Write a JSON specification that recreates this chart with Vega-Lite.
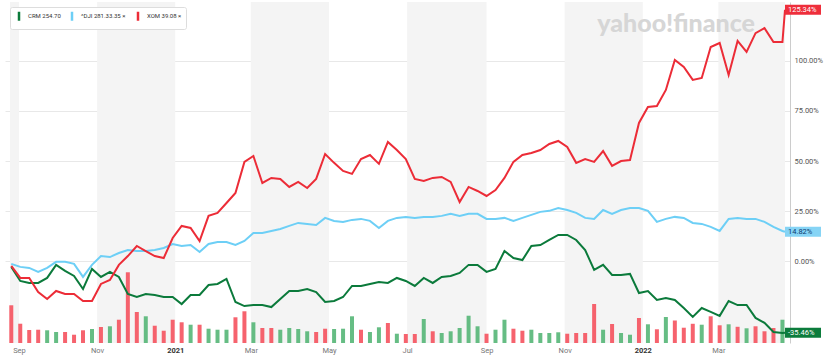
{
"$schema": "https://vega.github.io/schema/vega-lite/v6.json",
"width": 785, "height": 341,
"autosize": {"type": "none"},
"padding": {"left": 5, "top": 2, "right": 39, "bottom": 15},
"background": "white",
"config": {"view": {"stroke": null}, "font": "Roboto"},
"datasets": {
"main": [
{"d":"2020-08-26","CRM":-2.7,"DJI":-1.2,"XOM":-2.2,"vol":52.8,"up":0},
{"d":"2020-09-02","CRM":-9.7,"DJI":-2.7,"XOM":-8.2,"vol":27.0,"up":0},
{"d":"2020-09-09","CRM":-10.7,"DJI":-3.2,"XOM":-8.2,"vol":18.2,"up":0},
{"d":"2020-09-16","CRM":-10.7,"DJI":-5.2,"XOM":-15.2,"vol":18.6,"up":0},
{"d":"2020-09-23","CRM":-8.2,"DJI":-3.2,"XOM":-18.7,"vol":17.8,"up":1},
{"d":"2020-09-30","CRM":-1.7,"DJI":-0.2,"XOM":-14.7,"vol":15.4,"up":1},
{"d":"2020-10-07","CRM":-4.7,"DJI":-0.2,"XOM":-16.2,"vol":15.4,"up":0},
{"d":"2020-10-14","CRM":-7.2,"DJI":-1.2,"XOM":-16.2,"vol":11.6,"up":0},
{"d":"2020-10-21","CRM":-13.7,"DJI":-7.7,"XOM":-19.7,"vol":17.8,"up":0},
{"d":"2020-10-28","CRM":-3.7,"DJI":-1.7,"XOM":-19.7,"vol":19.6,"up":1},
{"d":"2020-11-04","CRM":-7.7,"DJI":2.7,"XOM":-11.2,"vol":22.4,"up":0},
{"d":"2020-11-11","CRM":-5.2,"DJI":2.2,"XOM":-9.2,"vol":23.4,"up":1},
{"d":"2020-11-18","CRM":-7.7,"DJI":4.2,"XOM":-1.7,"vol":32.6,"up":0},
{"d":"2020-11-25","CRM":-16.2,"DJI":5.7,"XOM":2.7,"vol":99.0,"up":0},
{"d":"2020-12-02","CRM":-17.7,"DJI":5.2,"XOM":7.7,"vol":43.4,"up":0},
{"d":"2020-12-09","CRM":-16.2,"DJI":5.2,"XOM":5.2,"vol":37.4,"up":1},
{"d":"2020-12-16","CRM":-16.7,"DJI":5.7,"XOM":2.7,"vol":24.2,"up":0},
{"d":"2020-12-23","CRM":-17.7,"DJI":6.7,"XOM":1.7,"vol":17.2,"up":0},
{"d":"2020-12-30","CRM":-17.7,"DJI":8.7,"XOM":11.7,"vol":32.6,"up":0},
{"d":"2021-01-06","CRM":-21.2,"DJI":7.7,"XOM":17.7,"vol":29.0,"up":0},
{"d":"2021-01-13","CRM":-16.7,"DJI":8.2,"XOM":16.7,"vol":25.6,"up":1},
{"d":"2021-01-20","CRM":-16.7,"DJI":4.7,"XOM":10.2,"vol":25.6,"up":0},
{"d":"2021-01-27","CRM":-11.7,"DJI":8.7,"XOM":22.7,"vol":20.0,"up":1},
{"d":"2021-02-03","CRM":-11.2,"DJI":9.7,"XOM":24.2,"vol":18.6,"up":1},
{"d":"2021-02-10","CRM":-8.7,"DJI":9.7,"XOM":29.1,"vol":18.6,"up":1},
{"d":"2021-02-17","CRM":-20.2,"DJI":8.2,"XOM":34.1,"vol":36.0,"up":0},
{"d":"2021-02-24","CRM":-22.2,"DJI":10.2,"XOM":49.6,"vol":44.4,"up":0},
{"d":"2021-03-03","CRM":-21.7,"DJI":14.2,"XOM":52.5,"vol":29.0,"up":1},
{"d":"2021-03-10","CRM":-21.7,"DJI":14.2,"XOM":39.1,"vol":21.0,"up":0},
{"d":"2021-03-17","CRM":-22.7,"DJI":15.2,"XOM":41.6,"vol":21.0,"up":0},
{"d":"2021-03-24","CRM":-18.7,"DJI":16.2,"XOM":41.1,"vol":18.6,"up":1},
{"d":"2021-03-31","CRM":-14.7,"DJI":17.7,"XOM":37.1,"vol":21.0,"up":1},
{"d":"2021-04-07","CRM":-14.7,"DJI":19.2,"XOM":39.6,"vol":19.6,"up":1},
{"d":"2021-04-14","CRM":-13.7,"DJI":18.7,"XOM":36.6,"vol":16.4,"up":1},
{"d":"2021-04-21","CRM":-15.2,"DJI":18.2,"XOM":41.1,"vol":15.4,"up":0},
{"d":"2021-04-28","CRM":-20.2,"DJI":21.7,"XOM":53.5,"vol":20.0,"up":0},
{"d":"2021-05-05","CRM":-19.7,"DJI":20.2,"XOM":49.1,"vol":19.6,"up":1},
{"d":"2021-05-12","CRM":-17.7,"DJI":19.7,"XOM":45.1,"vol":20.0,"up":1},
{"d":"2021-05-19","CRM":-12.2,"DJI":20.7,"XOM":43.6,"vol":37.4,"up":1},
{"d":"2021-05-26","CRM":-12.2,"DJI":21.2,"XOM":51.0,"vol":18.6,"up":0},
{"d":"2021-06-02","CRM":-11.2,"DJI":20.2,"XOM":53.0,"vol":15.4,"up":1},
{"d":"2021-06-09","CRM":-10.2,"DJI":16.7,"XOM":48.6,"vol":22.0,"up":1},
{"d":"2021-06-16","CRM":-10.7,"DJI":20.2,"XOM":59.5,"vol":28.0,"up":0},
{"d":"2021-06-23","CRM":-8.2,"DJI":21.7,"XOM":55.5,"vol":13.0,"up":1},
{"d":"2021-06-30","CRM":-9.7,"DJI":22.2,"XOM":51.0,"vol":12.6,"up":0},
{"d":"2021-07-07","CRM":-12.2,"DJI":21.7,"XOM":41.1,"vol":12.6,"up":0},
{"d":"2021-07-14","CRM":-8.2,"DJI":22.2,"XOM":40.1,"vol":33.6,"up":1},
{"d":"2021-07-21","CRM":-10.7,"DJI":22.2,"XOM":41.6,"vol":16.4,"up":0},
{"d":"2021-07-28","CRM":-7.7,"DJI":22.7,"XOM":42.1,"vol":14.0,"up":1},
{"d":"2021-08-04","CRM":-7.2,"DJI":23.7,"XOM":39.6,"vol":16.4,"up":1},
{"d":"2021-08-11","CRM":-5.7,"DJI":22.7,"XOM":29.6,"vol":21.0,"up":1},
{"d":"2021-08-18","CRM":-1.7,"DJI":23.7,"XOM":37.1,"vol":38.2,"up":1},
{"d":"2021-08-25","CRM":-1.7,"DJI":23.7,"XOM":35.1,"vol":23.4,"up":1},
{"d":"2021-09-01","CRM":-5.2,"DJI":21.2,"XOM":32.6,"vol":13.0,"up":0},
{"d":"2021-09-08","CRM":-3.7,"DJI":21.2,"XOM":35.6,"vol":18.6,"up":1},
{"d":"2021-09-15","CRM":5.2,"DJI":21.7,"XOM":41.6,"vol":32.6,"up":1},
{"d":"2021-09-22","CRM":1.7,"DJI":20.2,"XOM":49.6,"vol":20.0,"up":0},
{"d":"2021-09-29","CRM":0.7,"DJI":21.7,"XOM":53.0,"vol":17.2,"up":0},
{"d":"2021-10-06","CRM":7.7,"DJI":23.2,"XOM":54.0,"vol":18.6,"up":1},
{"d":"2021-10-13","CRM":8.2,"DJI":24.7,"XOM":55.5,"vol":14.0,"up":1},
{"d":"2021-10-20","CRM":10.7,"DJI":25.2,"XOM":58.5,"vol":14.0,"up":1},
{"d":"2021-10-27","CRM":13.2,"DJI":26.6,"XOM":60.0,"vol":15.0,"up":1},
{"d":"2021-11-03","CRM":13.2,"DJI":25.6,"XOM":57.0,"vol":13.0,"up":0},
{"d":"2021-11-10","CRM":10.7,"DJI":24.2,"XOM":49.1,"vol":14.0,"up":0},
{"d":"2021-11-17","CRM":5.7,"DJI":21.7,"XOM":51.0,"vol":14.0,"up":0},
{"d":"2021-11-24","CRM":-4.2,"DJI":21.2,"XOM":49.6,"vol":54.6,"up":0},
{"d":"2021-12-01","CRM":-1.7,"DJI":25.6,"XOM":55.0,"vol":18.6,"up":1},
{"d":"2021-12-08","CRM":-6.7,"DJI":23.7,"XOM":47.6,"vol":26.6,"up":0},
{"d":"2021-12-15","CRM":-6.7,"DJI":25.6,"XOM":50.0,"vol":14.0,"up":1},
{"d":"2021-12-22","CRM":-6.2,"DJI":26.6,"XOM":50.5,"vol":11.6,"up":1},
{"d":"2021-12-29","CRM":-15.7,"DJI":26.6,"XOM":69.0,"vol":35.0,"up":0},
{"d":"2022-01-05","CRM":-14.7,"DJI":25.2,"XOM":76.9,"vol":26.2,"up":1},
{"d":"2022-01-12","CRM":-19.2,"DJI":19.7,"XOM":77.4,"vol":19.2,"up":0},
{"d":"2022-01-19","CRM":-18.2,"DJI":21.2,"XOM":85.4,"vol":36.4,"up":1},
{"d":"2022-01-26","CRM":-19.2,"DJI":22.2,"XOM":100.3,"vol":31.5,"up":0},
{"d":"2022-02-02","CRM":-23.2,"DJI":21.7,"XOM":96.9,"vol":21.4,"up":0},
{"d":"2022-02-09","CRM":-27.6,"DJI":19.2,"XOM":90.4,"vol":26.9,"up":0},
{"d":"2022-02-16","CRM":-23.2,"DJI":18.7,"XOM":91.4,"vol":25.6,"up":1},
{"d":"2022-02-23","CRM":-25.1,"DJI":17.2,"XOM":106.8,"vol":37.4,"up":0},
{"d":"2022-03-02","CRM":-27.1,"DJI":15.2,"XOM":108.8,"vol":24.8,"up":0},
{"d":"2022-03-09","CRM":-19.7,"DJI":21.2,"XOM":92.9,"vol":26.2,"up":1},
{"d":"2022-03-16","CRM":-21.7,"DJI":21.7,"XOM":109.8,"vol":22.7,"up":0},
{"d":"2022-03-23","CRM":-21.7,"DJI":21.2,"XOM":104.3,"vol":20.6,"up":1},
{"d":"2022-03-30","CRM":-28.1,"DJI":21.2,"XOM":113.7,"vol":23.4,"up":0},
{"d":"2022-04-06","CRM":-30.6,"DJI":19.7,"XOM":116.2,"vol":16.4,"up":0},
{"d":"2022-04-13","CRM":-35.1,"DJI":17.2,"XOM":109.3,"vol":21.0,"up":0},
{"d":"2022-04-20","CRM":-35.6,"DJI":15.2,"XOM":109.3,"vol":32.6,"up":1},
{"d":"2022-04-22","CRM":-35.46,"DJI":14.82,"XOM":125.34,"vol":null,"up":1}
],
"bands": [
{"d":"2020-08-25","d2":"2020-09-01"},
{"d":"2020-11-01","d2":"2021-01-01"},
{"d":"2021-03-01","d2":"2021-05-01"},
{"d":"2021-07-01","d2":"2021-09-01"},
{"d":"2021-11-01","d2":"2022-01-01"},
{"d":"2022-03-01","d2":"2022-04-22"}
],
"last": [
{"d":"2022-04-22","pct":125.34,"sym":"XOM","txt":"125.34%"},
{"d":"2022-04-22","pct":14.82,"sym":"DJI","txt":"14.82%"},
{"d":"2022-04-22","pct":-35.46,"sym":"CRM","txt":"-35.46%"}
],
"wm": [
{"d":"2022-01-27","pct":114.3,"t":"yahoo!finance"}
]
},
"encoding": {
"x": {"field":"d","type":"temporal",
"scale":{"domain":[{"year":2020,"month":8,"date":25},{"year":2022,"month":4,"date":22}]},
"axis":{"values":[{"year":2020,"month":9,"date":1},{"year":2020,"month":11,"date":1},{"year":2021,"month":1,"date":1},{"year":2021,"month":3,"date":1},{"year":2021,"month":5,"date":1},{"year":2021,"month":7,"date":1},{"year":2021,"month":9,"date":1},{"year":2021,"month":11,"date":1},{"year":2022,"month":1,"date":1},{"year":2022,"month":3,"date":1}],
"labelExpr":"month(datum.value)==0 ? timeFormat(datum.value,'%Y') : timeFormat(datum.value,'%b')",
"labelFontWeight":{"condition":{"test":"month(datum.value)==0","value":"bold"},"value":"normal"},
"labelColor":{"condition":{"test":"month(datum.value)==0","value":"#333333"},"value":"#777777"},
"domain":false,"ticks":false,"grid":false,"labelFontSize":7.5,"labelPadding":3,"title":null}}
},
"layer": [
{"data":{"name":"bands"},"mark":{"type":"rect","color":"#f4f4f4"},"encoding":{"x2":{"field":"d2"}}},
{"data":{"name":"wm"},"mark":{"type":"text","align":"center","baseline":"alphabetic","fontSize":25,"font":"Lato","fontWeight":900,"color":"#d6d6d6"},
"encoding":{"y":{"field":"pct","type":"quantitative","scale":{"domain":[-40.6,129.2],"nice":false,"zero":false},"axis":null},"text":{"field":"t"}}},
{"data":{"name":"main"},"mark":{"type":"bar","width":4,"opacity":0.9},
"encoding":{"y":{"field":"vol","type":"quantitative","scale":{"domain":[0,477.4],"nice":false,"zero":true},"axis":null},
"color":{"condition":{"test":"datum.up==1","value":"#55b677"},"value":"#f5525e"}}},
{"data":{"name":"main"},"transform":[{"fold":["DJI","CRM","XOM"],"as":["sym","pct"]}],
"mark":{"type":"line","strokeWidth":2},
"encoding":{"y":{"field":"pct","type":"quantitative","scale":{"domain":[-40.6,129.2],"nice":false,"zero":false},
"axis":{"orient":"right","values":[0,25,50,75,100],"labelExpr":"format(datum.value,'.2f') + '%'","grid":true,"gridColor":"#e8e8e8","domain":true,"domainColor":"#cccccc","ticks":false,"labelFontSize":7.5,"labelColor":"#555555","labelPadding":4,"title":null}},
"color":{"field":"sym","type":"nominal","scale":{"domain":["CRM","DJI","XOM"],"range":["#0b7a3b","#6dcff6","#ec2c37"]},
"legend":{"title":null,"orient":"top-left","direction":"horizontal","columns":3,"symbolType":"M0,-1L0,1","symbolSize":81,"symbolStrokeWidth":2.5,"labelFontSize":6,"labelColor":"#333333","labelExpr":"datum.label == 'CRM' ? 'CRM 254.70' : datum.label == 'DJI' ? '^DJI 281.33.35  ×' : 'XOM 39.08  ×'","fillColor":"white","strokeColor":"#dddddd","padding":3,"offset":5,"columnPadding":5,"labelOffset":3,"cornerRadius":2}}}},
{"data":{"name":"last"},"mark":{"type":"point","shape":"M0,-0.28L2,-0.28L2,0.28L0,0.28Z","size":1296,"filled":true,"opacity":1,"strokeWidth":0},
"encoding":{"y":{"field":"pct","type":"quantitative","scale":{"domain":[-40.6,129.2],"nice":false,"zero":false},"axis":null},
"fill":{"condition":[{"test":"datum.sym=='XOM'","value":"#ee2e3b"},{"test":"datum.sym=='DJI'","value":"#86d4f5"}],"value":"#0c7c3c"}}},
{"data":{"name":"last"},"mark":{"type":"text","align":"left","baseline":"middle","dx":3,"fontSize":7.5},
"encoding":{"y":{"field":"pct","type":"quantitative","scale":{"domain":[-40.6,129.2],"nice":false,"zero":false},"axis":null},
"text":{"field":"txt"},
"color":{"condition":{"test":"datum.sym=='DJI'","value":"#0e3a70"},"value":"white"}}}
],
"resolve": {"scale": {"y": "independent"}}
}
